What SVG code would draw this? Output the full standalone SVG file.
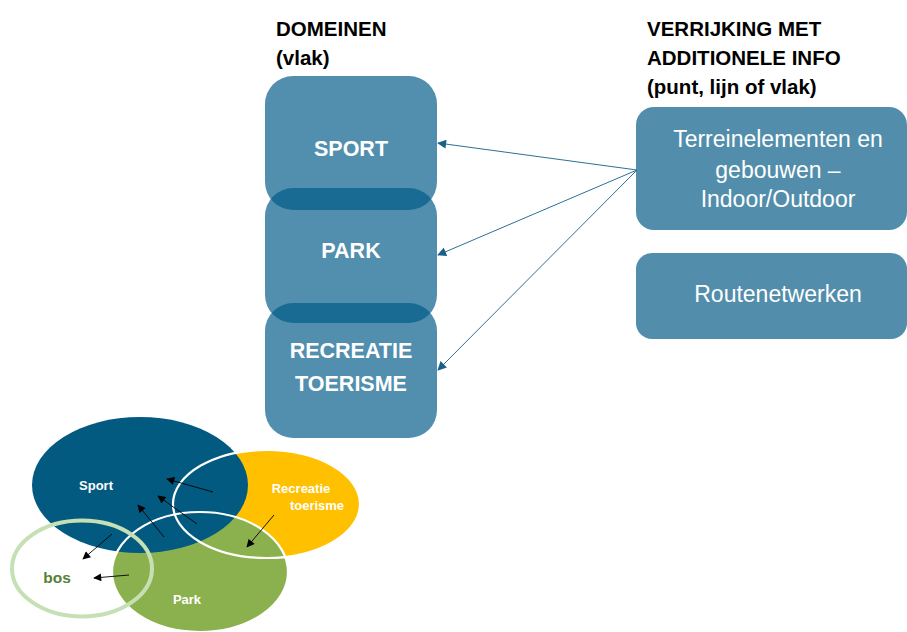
<svg xmlns="http://www.w3.org/2000/svg" width="907" height="632" viewBox="0 0 907 632">
  <style>
    .hdr { font-family: "Liberation Sans", Arial, sans-serif; font-weight: bold; font-size: 20.5px; fill: #000; }
    .dom { fill: #005A87; fill-opacity: 0.68; }
    .domtxt { font-family: "Liberation Sans", Arial, sans-serif; font-weight: bold; font-size: 21.5px; fill: #fff; text-anchor: middle; }
    .info { fill: #528EAB; }
    .infotxt { font-family: "Liberation Sans", Arial, sans-serif; font-size: 23px; fill: #fff; text-anchor: middle; }
    .link { stroke: #2F6F95; stroke-width: 1; fill: none; marker-end: url(#ahBlue); }
    .varrow { stroke: #000; stroke-width: 0.9; fill: none; marker-end: url(#ahBlack); }
    .vtxt { font-family: "Liberation Sans", Arial, sans-serif; font-weight: bold; font-size: 13px; fill: #fff; text-anchor: middle; }
  </style>
  <defs>
    <marker id="ahBlue" viewBox="0 0 10 10" refX="9" refY="5" markerWidth="10" markerHeight="9" markerUnits="userSpaceOnUse" orient="auto">
      <path d="M0,0 L10,5 L0,10 z" fill="#1A5F8A"/>
    </marker>
    <marker id="ahBlack" viewBox="0 0 10 10" refX="9" refY="5" markerWidth="9" markerHeight="8" markerUnits="userSpaceOnUse" orient="auto">
      <path d="M0,0 L10,5 L0,10 z" fill="#000"/>
    </marker>
  </defs>

  <!-- column headers -->
  <g id="header-domeinen">
    <text class="hdr" x="276" y="36" font-size="21.5">DOMEINEN</text>
    <text class="hdr" x="276" y="65" font-size="21.5">(vlak)</text>
  </g>
  <g id="header-verrijking">
    <text class="hdr" x="647" y="36">VERRIJKING MET</text>
    <text class="hdr" x="647" y="65">ADDITIONELE INFO</text>
    <text class="hdr" x="647" y="94">(punt, lijn of vlak)</text>
  </g>

  <!-- domain blocks (translucent, overlaps darker) -->
  <g id="dom-sport">
    <rect class="dom" x="265" y="76" width="172" height="134" rx="28"/>
    <text class="domtxt" x="351" y="156">SPORT</text>
  </g>
  <g id="dom-park">
    <rect class="dom" x="265" y="188" width="172" height="135" rx="28"/>
    <text class="domtxt" x="351" y="258">PARK</text>
  </g>
  <g id="dom-recreatie">
    <rect class="dom" x="265" y="303" width="172" height="135" rx="28"/>
    <text class="domtxt" x="351" y="358">RECREATIE</text>
    <text class="domtxt" x="351" y="391">TOERISME</text>
  </g>

  <!-- enrichment blocks -->
  <g id="info-terrein">
    <rect class="info" x="636" y="107" width="271" height="123" rx="18"/>
    <text class="infotxt" x="778" y="147">Terreinelementen en</text>
    <text class="infotxt" x="778" y="178">gebouwen –</text>
    <text class="infotxt" x="778" y="207">Indoor/Outdoor</text>
  </g>
  <g id="info-route">
    <rect class="info" x="636" y="253" width="271" height="86" rx="16"/>
    <text class="infotxt" x="778" y="302">Routenetwerken</text>
  </g>

  <!-- connectors -->
  <g id="connectors">
    <line class="link" x1="637" y1="170" x2="438" y2="143"/>
    <line class="link" x1="637" y1="170" x2="438" y2="255"/>
    <line class="link" x1="637" y1="170" x2="438" y2="370"/>
  </g>

  <!-- Venn-style domain overlap sketch -->
  <g id="venn">
    <ellipse id="venn-recreatie" cx="266.5" cy="504" rx="93.5" ry="54" fill="#FFC000"/>
    <ellipse id="venn-park" cx="200" cy="572" rx="88" ry="60" fill="#8BB14E"/>
    <ellipse id="venn-sport" cx="140" cy="485" rx="108" ry="68" fill="#035A80"/>
    <ellipse cx="266.5" cy="504" rx="93.5" ry="54" fill="none" stroke="#fff" stroke-width="2.2"/>
    <ellipse cx="200" cy="572" rx="88" ry="60" fill="none" stroke="#fff" stroke-width="2.2"/>
    <ellipse id="venn-bos" cx="82" cy="568.5" rx="70" ry="48" fill="none" stroke="#C5E0B4" stroke-width="4"/>

    <text class="vtxt" x="96" y="490">Sport</text>
    <text class="vtxt" x="301" y="493" font-size="13.5">Recreatie</text>
    <text class="vtxt" x="317" y="510" font-size="13.5">toerisme</text>
    <text class="vtxt" x="187" y="604">Park</text>
    <text x="57" y="583" font-family="Liberation Sans, Arial, sans-serif" font-weight="bold" font-size="15.5" fill="#548235" text-anchor="middle">bos</text>

    <g id="venn-arrows">
      <line class="varrow" x1="213" y1="492" x2="167" y2="479"/>
      <line class="varrow" x1="197" y1="524" x2="158" y2="496"/>
      <line class="varrow" x1="164" y1="537" x2="138" y2="505"/>
      <line class="varrow" x1="112" y1="534" x2="83" y2="559"/>
      <line class="varrow" x1="129" y1="575" x2="94" y2="578"/>
      <line class="varrow" x1="274" y1="515" x2="247" y2="547"/>
    </g>
  </g>
</svg>
